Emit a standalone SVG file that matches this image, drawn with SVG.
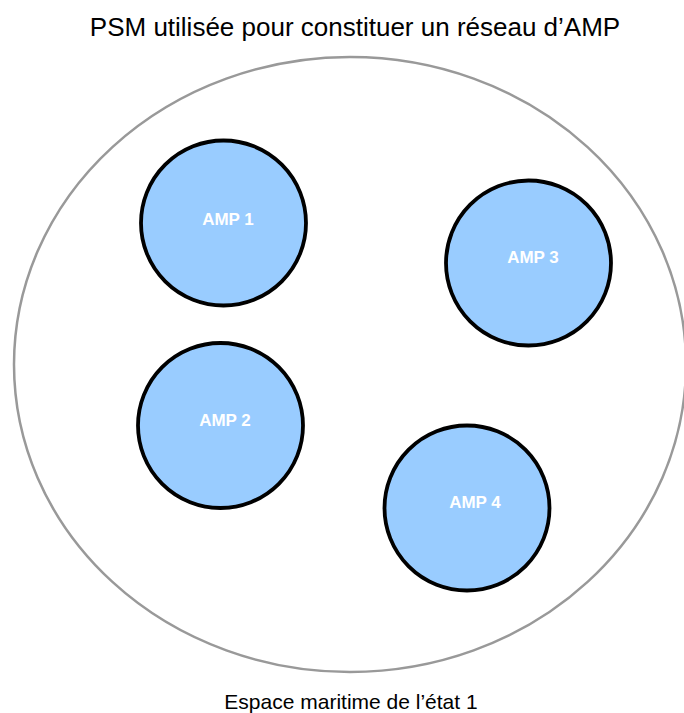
<svg xmlns="http://www.w3.org/2000/svg" width="684" height="713" viewBox="0 0 684 713">
<style>
.amp{fill:#99ccff;stroke:#000;stroke-width:3.8}
.lbl{font-family:"Liberation Sans",Arial,sans-serif;font-weight:bold;font-size:17px;fill:#fff;text-anchor:middle}
.t{font-family:"Liberation Sans",Arial,sans-serif;fill:#000;text-anchor:middle}
</style>
<rect width="684" height="713" fill="#fff"/>
<text class="t" x="355" y="36" font-size="26">PSM utilisée pour constituer un réseau d’AMP</text>
<g id="espace">
<ellipse cx="350" cy="364.5" rx="336" ry="307.5" fill="none" stroke="#999" stroke-width="2.5"/>
<text class="t" x="351" y="709" font-size="21">Espace maritime de l’état 1</text>
</g>
<g id="amp1"><circle class="amp" cx="223.5" cy="223" r="82.5"/><text class="lbl" x="228" y="225">AMP 1</text></g>
<g id="amp3"><circle class="amp" cx="528.5" cy="263" r="82.5"/><text class="lbl" x="533" y="263">AMP 3</text></g>
<g id="amp2"><circle class="amp" cx="220.5" cy="425.5" r="82.5"/><text class="lbl" x="225" y="426">AMP 2</text></g>
<g id="amp4"><circle class="amp" cx="467" cy="508" r="82.5"/><text class="lbl" x="475" y="508">AMP 4</text></g>
<g id="connectors"/>
</svg>
